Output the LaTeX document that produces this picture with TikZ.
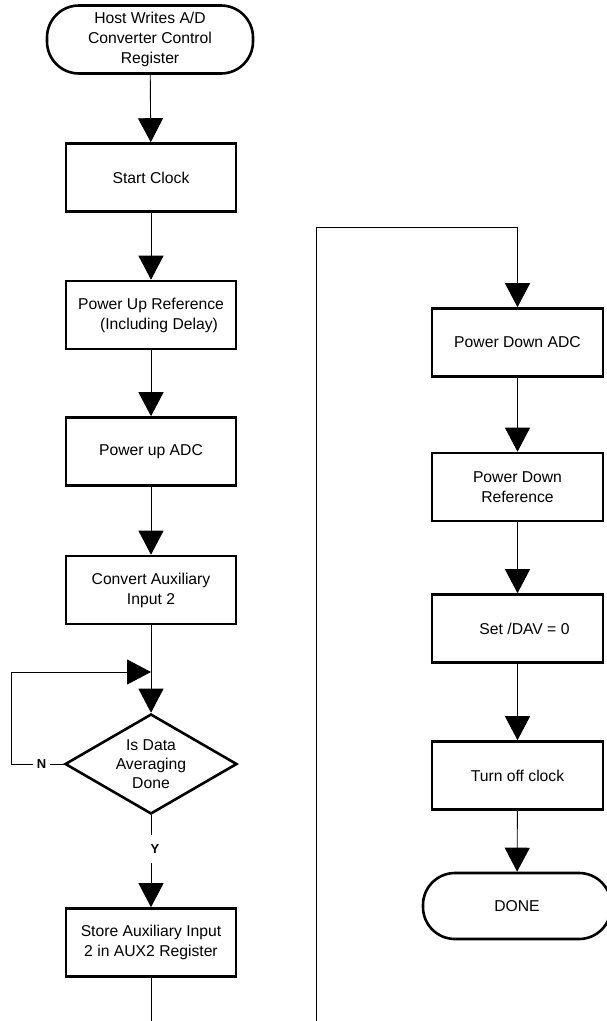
\documentclass[tikz,border=0pt]{standalone}
\usepackage{fontspec}
\setmainfont{Liberation Sans}
\usetikzlibrary{arrows.meta,shapes.geometric}
\begin{document}
\begin{tikzpicture}[x=1pt,y=-1pt,
  txt/.style={font=\fontsize{15.7}{20}\selectfont},
  proc/.style={txt,draw,line width=2.6pt,minimum width=170pt,minimum height=68pt,align=center,inner sep=0pt},
  term/.style={txt,draw,line width=2.6pt,rounded corners=32pt,minimum height=68pt,align=center,inner sep=0pt},
  dec/.style={font=\fontsize{15.7}{19}\selectfont,draw,line width=2.6pt,diamond,shape aspect=1.72,minimum width=172pt,minimum height=100pt,align=center,inner sep=0pt},
  lbl/.style={font=\fontsize{13}{13}\bfseries\selectfont,inner sep=0pt},
  conn/.style={line width=0.9pt},
  arr/.style={conn,-{Triangle[length=24pt,width=25pt]}}
]
\clip (0,0) rectangle (607,1021);
% left column
\node[term,minimum width=206pt] (host) at (150,39.5) {Host Writes A/D\\Converter Control\\Register};
\node[proc] (start) at (151,177.5) {Start Clock};
\node[proc] (pur) at (151,315) {Power Up Reference\\\hspace*{16pt}(Including Delay)};
\node[proc] (pua) at (151,451.5) {Power up ADC};
\node[proc] (conv) at (151,590) {Convert Auxiliary\\Input 2};
\node[dec] (isd) at (151,764) {Is Data\\Averaging\\Done};
\node[proc] (store) at (151,942.5) {Store Auxiliary Input\\2 in AUX2 Register};
\node[lbl,minimum width=17pt] (N) at (41.5,764) {N};
\node[lbl,minimum height=27pt] (Y) at (155,849) {Y};
\coordinate (jn) at (151,672);
\coordinate (lbot) at (151,1030);
% right column
\node[proc,minimum width=171pt] (pda) at (517.5,342.5) {Power Down ADC};
\node[proc,minimum width=171pt] (pdr) at (517.5,487) {Power Down\\Reference};
\node[proc,minimum width=171pt] (sdav) at (517.5,628.5) {\hspace*{14pt}Set /DAV = 0};
\node[proc,minimum width=171pt] (toc) at (517.5,775.5) {Turn off clock};
\node[term,minimum width=188pt,minimum height=66pt] (done) at (517,906) {DONE};
\coordinate (rbot) at (316,1030);
% connectors
\draw[arr] (host) -- (start);
\draw[arr] (start) -- (pur);
\draw[arr] (pur) -- (pua);
\draw[arr] (pua) -- (conv);
\draw[arr] (conv) -- (isd);
\draw[conn] (isd.west) -- (N.east);
\draw[arr] (N.west) -- ++(-21,0) |- (jn);
\draw[conn] (isd.south) -- (isd.south |- Y.north);
\draw[arr] (isd.south |- Y.south) -- (store.north);
\draw[conn] (store) -- (lbot);
\draw[arr] (rbot) |- ++(201.5,-803) -- (pda.north);
\draw[arr] (pda) -- (pdr);
\draw[arr] (pdr) -- (sdav);
\draw[arr] (sdav) -- (toc);
\draw[arr] (toc) -- (done);
\end{tikzpicture}
\end{document}
